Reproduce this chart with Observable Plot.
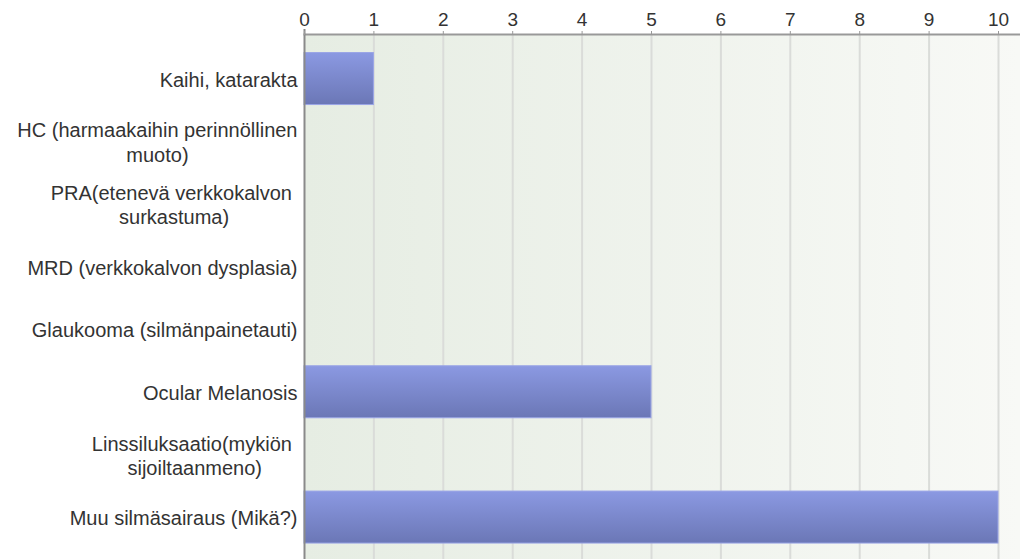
<!DOCTYPE html>
<html>
<head>
<meta charset="utf-8">
<script src="https://cdn.jsdelivr.net/npm/d3@7"></script>
<script src="https://cdn.jsdelivr.net/npm/@observablehq/plot@0.6"></script>
<style>
  html, body { margin: 0; padding: 0; background: #fff; }
  #chart svg { display: block; }
  #chart text { white-space: pre; }
</style>
</head>
<body>
<div id="chart"></div>
<script>
const categories = [
  "Kaihi, katarakta",
  "HC (harmaakaihin perinnöllinen\nmuoto)",
  "PRA(etenevä verkkokalvon \nsurkastuma)",
  "MRD (verkkokalvon dysplasia)",
  "Glaukooma (silmänpainetauti)",
  "Ocular Melanosis",
  "Linssiluksaatio(mykiön \nsijoiltaanmeno)",
  "Muu silmäsairaus (Mikä?)"
];
const values = [1, 0, 0, 0, 0, 5, 0, 10];
const xTicks = [0, 1, 2, 3, 4, 5, 6, 7, 8, 9, 10];

const data = categories.map((c, i) => ({category: c, value: values[i]}));

const FONT = "Liberation Sans, Arial, Helvetica, sans-serif";
const LABEL_SIZE = 20;
const ctx = document.createElement("canvas").getContext("2d");
ctx.font = `${LABEL_SIZE}px Liberation Sans`;
const widest = (s) => Math.max(...s.split("\n").map(l => ctx.measureText(l).width));

const labelMarks = categories.map(c =>
  Plot.text([c], {
    y: d => d,
    frameAnchor: "left",
    textAnchor: "middle",
    dx: -7 - widest(c) / 2,
    fontSize: LABEL_SIZE,
    lineHeight: 1.22,
    fill: "#333"
  })
);

const plot = Plot.plot({
  width: 1020,
  height: 559,
  marginLeft: 304,
  marginRight: 0,
  marginTop: 34,
  marginBottom: 0,
  style: {fontFamily: FONT, background: "#fff"},
  x: {domain: [0, 10], insetRight: 22, label: null},
  y: {domain: categories, padding: 0.17, insetTop: 7.9, insetBottom: 5.3, round: false, axis: null},
  marks: [
    Plot.frame({fill: "url(#bgGrad)", stroke: "none"}),
    Plot.ruleX(xTicks.filter(t => t > 0), {stroke: "#dadcd9", strokeWidth: 2}),
    Plot.barX(data, {x: "value", y: "category", fill: "url(#barGrad)", stroke: "#9aa5e6", strokeWidth: 1}),
    Plot.frame({anchor: "top", stroke: "#999", strokeWidth: 2}),
    Plot.ruleX([0], {stroke: "#8a8a8a", strokeWidth: 2, insetTop: -5}),
    Plot.axisX(xTicks, {anchor: "top", label: null, tickSize: 4, tickPadding: 5, fontSize: 19, stroke: "#999", fill: "#333", tickFormat: d => String(d)}),
    ...labelMarks
  ]
});

const svg = d3.select(plot);
const defs = svg.insert("defs", ":first-child");
const bg = defs.append("linearGradient").attr("id", "bgGrad").attr("x1", 0).attr("x2", 1).attr("y1", 0).attr("y2", 0);
bg.append("stop").attr("offset", "0%").attr("stop-color", "#e6ede3");
bg.append("stop").attr("offset", "100%").attr("stop-color", "#f8f9f6");
const bar = defs.append("linearGradient").attr("id", "barGrad").attr("x1", 0).attr("x2", 0).attr("y1", 0).attr("y2", 1);
bar.append("stop").attr("offset", "0%").attr("stop-color", "#8b99e2");
bar.append("stop").attr("offset", "100%").attr("stop-color", "#6b77b6");

document.getElementById("chart").appendChild(plot);
</script>
</body>
</html>
